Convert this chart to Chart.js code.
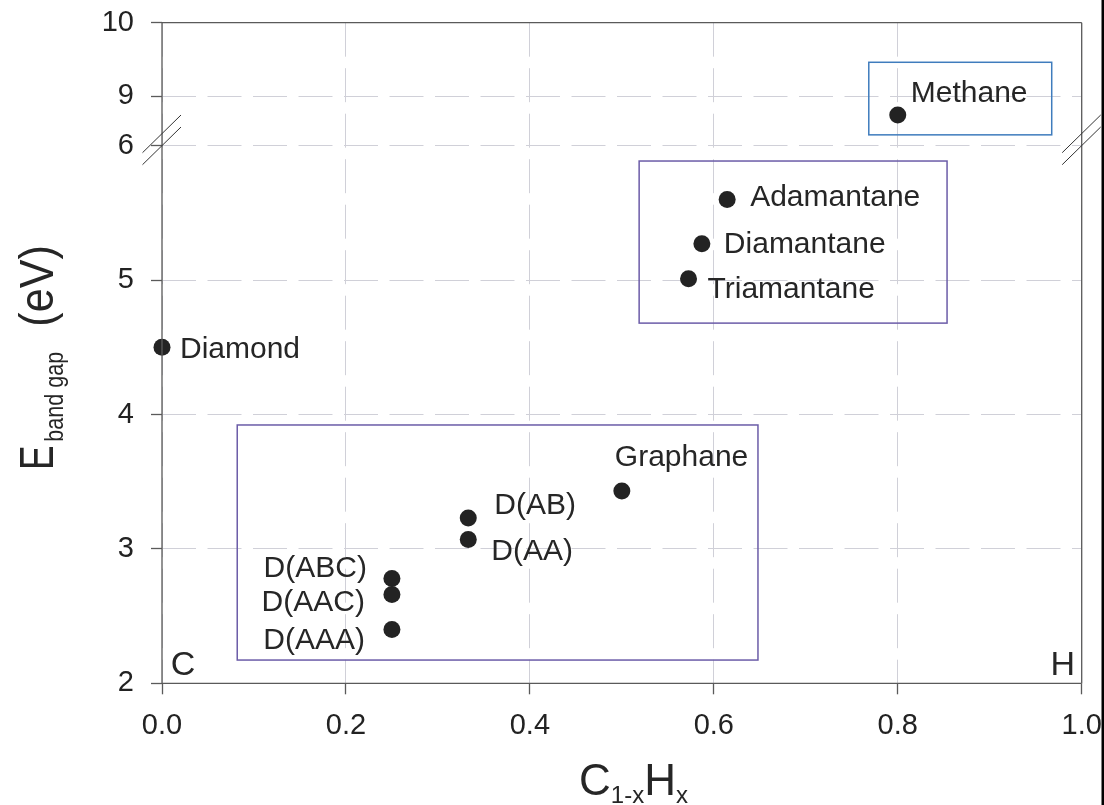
<!DOCTYPE html>
<html><head><meta charset="utf-8">
<script src="https://cdn.jsdelivr.net/npm/chart.js@4"></script>
<style>html,body{margin:0;padding:0;background:#fff;} canvas{display:block;}</style>
</head><body>
<canvas id="c" width="1104" height="805"></canvas>
<script>
// ---- data ----
const names = ['Diamond','D(AAA)','D(AAC)','D(ABC)','D(AA)','D(AB)','Graphane','Triamantane','Diamantane','Adamantane','Methane'];
const xValues = [0.0, 0.25, 0.25, 0.25, 0.333, 0.333, 0.5, 0.5725, 0.587, 0.6145, 0.8];
const gapValues = [4.50, 2.40, 2.66, 2.78, 3.07, 3.23, 3.43, 5.01, 5.27, 5.60, 8.74];
const xTickValues = [0, 0.2, 0.4, 0.6, 0.8, 1.0];
const yTickValues = [2, 3, 4, 5, 6, 9, 10];

// ---- broken y axis (6 -> 9) ----
const BREAK_LOW = 6, BREAK_HIGH = 9;
const GAP = 0.3698;    // display units between the 6 and 9 lines
const UPPER = 0.5454;  // display units per eV above the break
function toDisplay(v){ return v <= 7 ? v : BREAK_LOW + GAP + (v - BREAK_HIGH) * UPPER; }

// ---- styling ----
const FONT = "'Liberation Sans', Arial, Helvetica, sans-serif";
const TEXT = '#262626';
// label placement: [dx, dy, align] in pixels relative to each point
const labelPlace = [
  [18, 0, 'left'], [-27, 8.5, 'right'], [-27, 6, 'right'], [-25, -12, 'right'],
  [23, 10, 'left'], [26, -14.5, 'left'], [-7, -36, 'left'],
  [19, 9, 'left'], [22, -2, 'left'], [23, -4, 'left'], [13, -24, 'left']
];
const boxes = [
  {x0: 0.7685, x1: 0.9674, y0: 8.47, y1: 9.46, color: '#3f7cbd'},
  {x0: 0.5188, x1: 0.8536, y0: 4.68, y1: 5.886, color: '#6b5ca8'},
  {x0: 0.0818, x1: 0.648, y0: 2.173, y1: 3.922, color: '#6b5ca8'}
];

const annot = {
  id: 'annot',
  beforeDatasetsDraw(chart) {
    const {ctx, scales: {x, y}} = chart;
    ctx.save();
    ctx.lineWidth = 1.5;
    boxes.forEach(b => {
      const px0 = x.getPixelForValue(b.x0), px1 = x.getPixelForValue(b.x1);
      const py0 = y.getPixelForValue(toDisplay(b.y0)), py1 = y.getPixelForValue(toDisplay(b.y1));
      ctx.strokeStyle = b.color;
      ctx.strokeRect(px0, py1, px1 - px0, py0 - py1);
    });
    ctx.restore();
  },
  afterDraw(chart) {
    const {ctx, chartArea: a, scales: {x, y}} = chart;
    ctx.save();
    // frame
    ctx.strokeStyle = '#5a5a5a';
    ctx.lineWidth = 1.3;
    ctx.beginPath();
    ctx.moveTo(a.left, a.top); ctx.lineTo(a.right, a.top);
    ctx.moveTo(a.right, a.top); ctx.lineTo(a.right, a.bottom);
    ctx.moveTo(a.left, a.bottom); ctx.lineTo(a.right, a.bottom);
    ctx.moveTo(a.left, a.top); ctx.lineTo(a.left, a.bottom);
    ctx.stroke();
    // break marks
    const y6 = y.getPixelForValue(6);
    ctx.strokeStyle = '#333';
    ctx.lineWidth = 1;
    [a.left, a.right].forEach(cx => {
      [0, 12].forEach(off => {
        ctx.beginPath();
        ctx.moveTo(cx - 19.5, y6 + 7 + off);
        ctx.lineTo(cx + 19, y6 - 30.7 + off);
        ctx.stroke();
      });
    });
    // right edge bar
    ctx.fillStyle = '#000';
    ctx.fillRect(1101.5, 0, 2.5, 805);
    // point labels
    ctx.fillStyle = TEXT;
    ctx.font = '30px ' + FONT;
    ctx.textBaseline = 'alphabetic';
    names.forEach((n, i) => {
      const px = x.getPixelForValue(xValues[i]);
      const py = y.getPixelForValue(toDisplay(gapValues[i]));
      const [dx, dy, al] = labelPlace[i];
      ctx.textAlign = al;
      ctx.fillText(n, px + dx, py + dy + 0.358 * 30);
    });
    // C and H corner labels
    ctx.font = '34px ' + FONT;
    ctx.textAlign = 'center';
    ctx.fillText('C', a.left + 21, a.bottom - 20 + 0.358 * 34);
    ctx.fillText('H', a.right - 19, a.bottom - 20 + 0.358 * 34);
    // x title C1-xHx
    const big = '44px ' + FONT, small = '24px ' + FONT;
    ctx.textAlign = 'left';
    const parts = [['C', big, 0], ['1-x', small, 8], ['H', big, 0], ['x', small, 8]];
    let w = 0;
    parts.forEach(p => { ctx.font = p[1]; w += ctx.measureText(p[0]).width; });
    let cx = 633.5 - w / 2;
    parts.forEach(p => { ctx.font = p[1]; ctx.fillText(p[0], cx, 795 + p[2]); cx += ctx.measureText(p[0]).width; });
    // y title E_band gap (eV)
    ctx.save();
    ctx.translate(53, 470);
    ctx.rotate(-Math.PI / 2);
    const piece = (t, font, sx, pos, base) => {
      ctx.save(); ctx.translate(pos, base); ctx.scale(sx, 1);
      ctx.font = font; ctx.fillText(t, 0, 0); ctx.restore();
    };
    piece('E', '49px ' + FONT, 0.75, 0, 0);
    piece('band gap', '26px ' + FONT, 0.83, 28.3, 10);
    piece('(eV)', '49px ' + FONT, 0.88, 143.3, 0);
    ctx.restore();
    ctx.restore();
  }
};

new Chart(document.getElementById('c'), {
  type: 'scatter',
  data: {
    datasets: [{
      data: xValues.map((xv, i) => ({x: xv, y: toDisplay(gapValues[i])})),
      pointRadius: 8.5, pointHoverRadius: 8.5, clip: false,
      backgroundColor: '#232323', borderColor: '#232323', borderWidth: 0
    }]
  },
  options: {
    responsive: false, animation: false, events: [],
    layout: {padding: {top: 22.7, right: 22.3, left: 0, bottom: 0}},
    plugins: {legend: {display: false}, tooltip: {enabled: false}},
    scales: {
      x: {
        type: 'linear', min: 0, max: 1, position: 'bottom',
        afterBuildTicks: s => { s.ticks = xTickValues.map(v => ({value: v})); },
        afterFit: s => { s.height = 121.7; s.paddingLeft = 0; s.paddingRight = 0; s.paddingTop = 0; s.paddingBottom = 0; },
        grid: {color: '#d0d0d8', lineWidth: 1, drawTicks: true, tickLength: 11, tickColor: '#5a5a5a', tickWidth: 1.3, tickBorderDash: []},
        border: {display: false, dash: [34, 11.5]},
        ticks: {font: {family: FONT, size: 29}, color: '#222', padding: 14, maxRotation: 0, autoSkip: false,
          callback: v => Number(v).toFixed(1)}
      },
      y: {
        type: 'linear', min: 2, max: toDisplay(10), position: 'left',
        afterBuildTicks: s => { s.ticks = yTickValues.map(v => ({value: toDisplay(v)})); },
        afterFit: s => { s.width = 162; s.paddingLeft = 0; s.paddingRight = 0; s.paddingTop = 0; s.paddingBottom = 0; },
        grid: {color: '#d0d0d8', lineWidth: 1, drawTicks: true, tickLength: 11, tickColor: '#5a5a5a', tickWidth: 1.3, tickBorderDash: []},
        border: {display: false, dash: [34, 11.5]},
        ticks: {font: {family: FONT, size: 29}, color: '#222', padding: 17, autoSkip: false,
          callback: (v, i) => String(yTickValues[i])}
      }
    }
  },
  plugins: [annot]
});
</script>
</body></html>
